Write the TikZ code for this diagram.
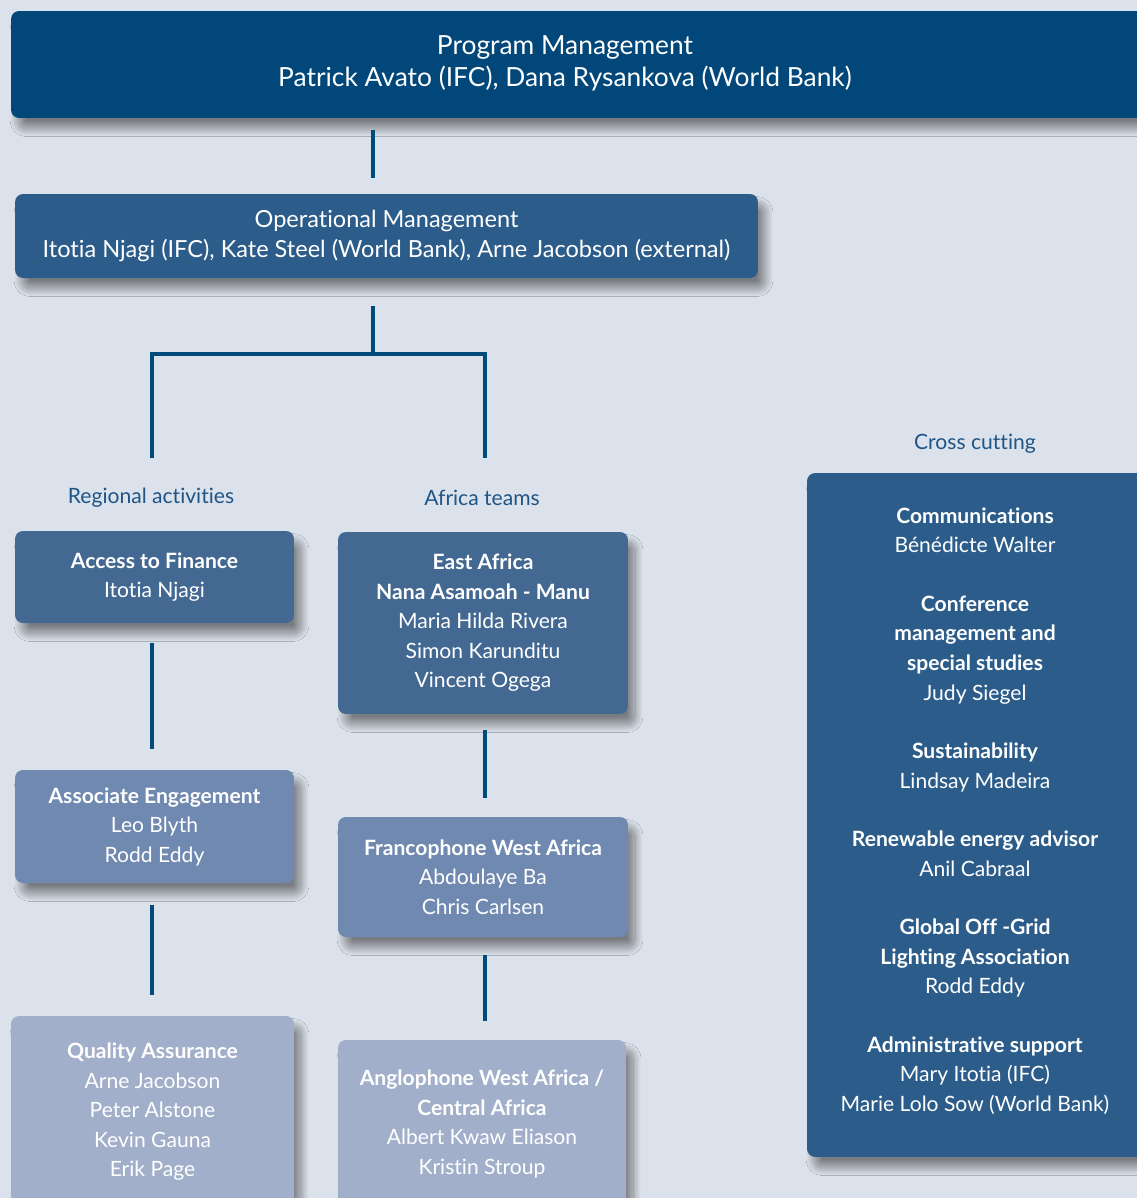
\documentclass[tikz,border=0pt]{standalone}
\usepackage{fontspec}
\setmainfont{Lato}[Ligatures=NoCommon]
\usepackage{xcolor}
\usetikzlibrary{shadows.blur}

\definecolor{pagebg}{HTML}{DCE2EB}
\definecolor{topblue}{HTML}{02477A}
\definecolor{midblue}{HTML}{2C5D8A}
\definecolor{tierone}{HTML}{436993}
\definecolor{tiertwo}{HTML}{7089B0}
\definecolor{tierthree}{HTML}{A2AFCA}
\definecolor{linkblue}{HTML}{004A7C}
\definecolor{headblue}{HTML}{1F5587}

\begin{document}
\begin{tikzpicture}[x=0.02cm,y=-0.02cm]
                        \tikzset{Box/.style={%
                                shape=rectangle,%
                                rounded corners=4.5pt,%
                                text=white,%
                                align=center,%
                                inner sep=0pt,%
                                font=\fontsize{12}{16.8}\selectfont,%
                                blur shadow={shadow xshift=4pt,shadow yshift=-6pt,shadow blur radius=4.5pt,shadow blur steps=30,shadow blur extra rounding=3pt,shadow opacity=45},%
                            },
                            Head/.style={%
                                text=headblue,%
                                font=\fontsize{12}{16.8}\selectfont,%
                            },
                            link/.style={%
                                draw=linkblue,%
                                line width=2.3pt,%
                            }}

                            \useasboundingbox (0,0) rectangle (1137,1198);
                            \fill[pagebg] (0,0) rectangle (1137,1198);

                            % management
                            \node[Box, fill=topblue, minimum width=22.98cm, minimum height=2.14cm] (pm) at (585.5,64.5) {};
                            \node[text=white, align=center, font=\fontsize{15}{18}\selectfont] (pmtext) at (565,63)
                                {Program Management\\Patrick Avato (IFC), Dana Rysankova (World Bank)};
                            \node[Box, fill=midblue, minimum width=14.86cm, minimum height=1.68cm,
                                  font=\fontsize{13.4}{17}\selectfont] (op) at (386.5,236)
                                {Operational Management\\Itotia Njagi (IFC), Kate Steel (World Bank), Arne Jacobson (external)};

                            % headings
                            \node[Head] (reg) at (151,498) {Regional activities};
                            \node[Head] (afr) at (482,498) {Africa teams};
                            \node[Head] (cc) at (975,444) {Cross cutting};

                            % regional activities
                            \node[Box, fill=tierone, minimum width=5.58cm, minimum height=1.84cm] (acc) at (154.5,577)
                                {\textbf{Access to Finance}\\Itotia Njagi};
                            \node[Box, fill=tiertwo, minimum width=5.58cm, minimum height=2.26cm] (assoc) at (154.5,826.5)
                                {\textbf{Associate Engagement}\\Leo Blyth\\Rodd Eddy};
                            \node[Box, fill=tierthree, minimum width=5.66cm, minimum height=3.84cm] (qa) at (152.5,1112)
                                {\textbf{Quality Assurance}\\Arne Jacobson\\Peter Alstone\\Kevin Gauna\\Erik Page};

                            % africa teams
                            \node[Box, fill=tierone, minimum width=5.8cm, minimum height=3.64cm] (east) at (483,623)
                                {\textbf{East Africa}\\\textbf{Nana Asamoah - Manu}\\Maria Hilda Rivera\\Simon Karunditu\\Vincent Ogega};
                            \node[Box, fill=tiertwo, minimum width=5.8cm, minimum height=2.4cm] (franco) at (483,877)
                                {\textbf{Francophone West Africa}\\Abdoulaye Ba\\Chris Carlsen};
                            \node[Box, fill=tierthree, minimum width=5.76cm, minimum height=3.36cm] (anglo) at (482,1124)
                                {\textbf{Anglophone West Africa /}\\\textbf{Central Africa}\\Albert Kwaw Eliason\\Kristin Stroup};

                            % cross cutting
                            \node[Box, fill=midblue, minimum width=6.86cm, minimum height=13.68cm] (cross) at (978.5,815) {};
                            \node[text=white, align=center, font=\fontsize{12}{16.8}\selectfont] (crosstext) at (975,811)
                                {\textbf{Communications}\\Bénédicte Walter\\[0.58cm]
                                 \textbf{Conference}\\\textbf{management and}\\\textbf{special studies}\\Judy Siegel\\[0.58cm]
                                 \textbf{Sustainability}\\Lindsay Madeira\\[0.58cm]
                                 \textbf{Renewable energy advisor}\\Anil Cabraal\\[0.58cm]
                                 \textbf{Global Off -Grid}\\\textbf{Lighting Association}\\Rodd Eddy\\[0.58cm]
                                 \textbf{Administrative support}\\Mary Itotia (IFC)\\Marie Lolo Sow (World Bank)};

                            \coordinate (stem) at (373,0);
                            \coordinate (fork) at (373,354);
                            \coordinate (regend) at (152,458);
                            \coordinate (afrend) at (485,458);

                            \path[link, shorten <=0.24cm, shorten >=0.32cm] (pm.south -| stem) edge (op.north -| stem);
                            \path[link] ([yshift=-0.56cm]op.south -| fork) edge (fork);
                            \draw[link] (regend) |- (fork) -| (afrend);
                            \path[link, shorten <=0.4cm, shorten >=0.42cm] (acc.south -| regend) edge (assoc.north -| regend);
                            \path[link, shorten <=0.44cm, shorten >=0.42cm] (assoc.south -| regend) edge (qa.north -| regend);
                            \path[link, shorten <=0.32cm, shorten >=0.38cm] (east.south -| afrend) edge (franco.north -| afrend);
                            \path[link, shorten <=0.36cm, shorten >=0.38cm] (franco.south -| afrend) edge (anglo.north -| afrend);
                    \end{tikzpicture}
\end{document}
